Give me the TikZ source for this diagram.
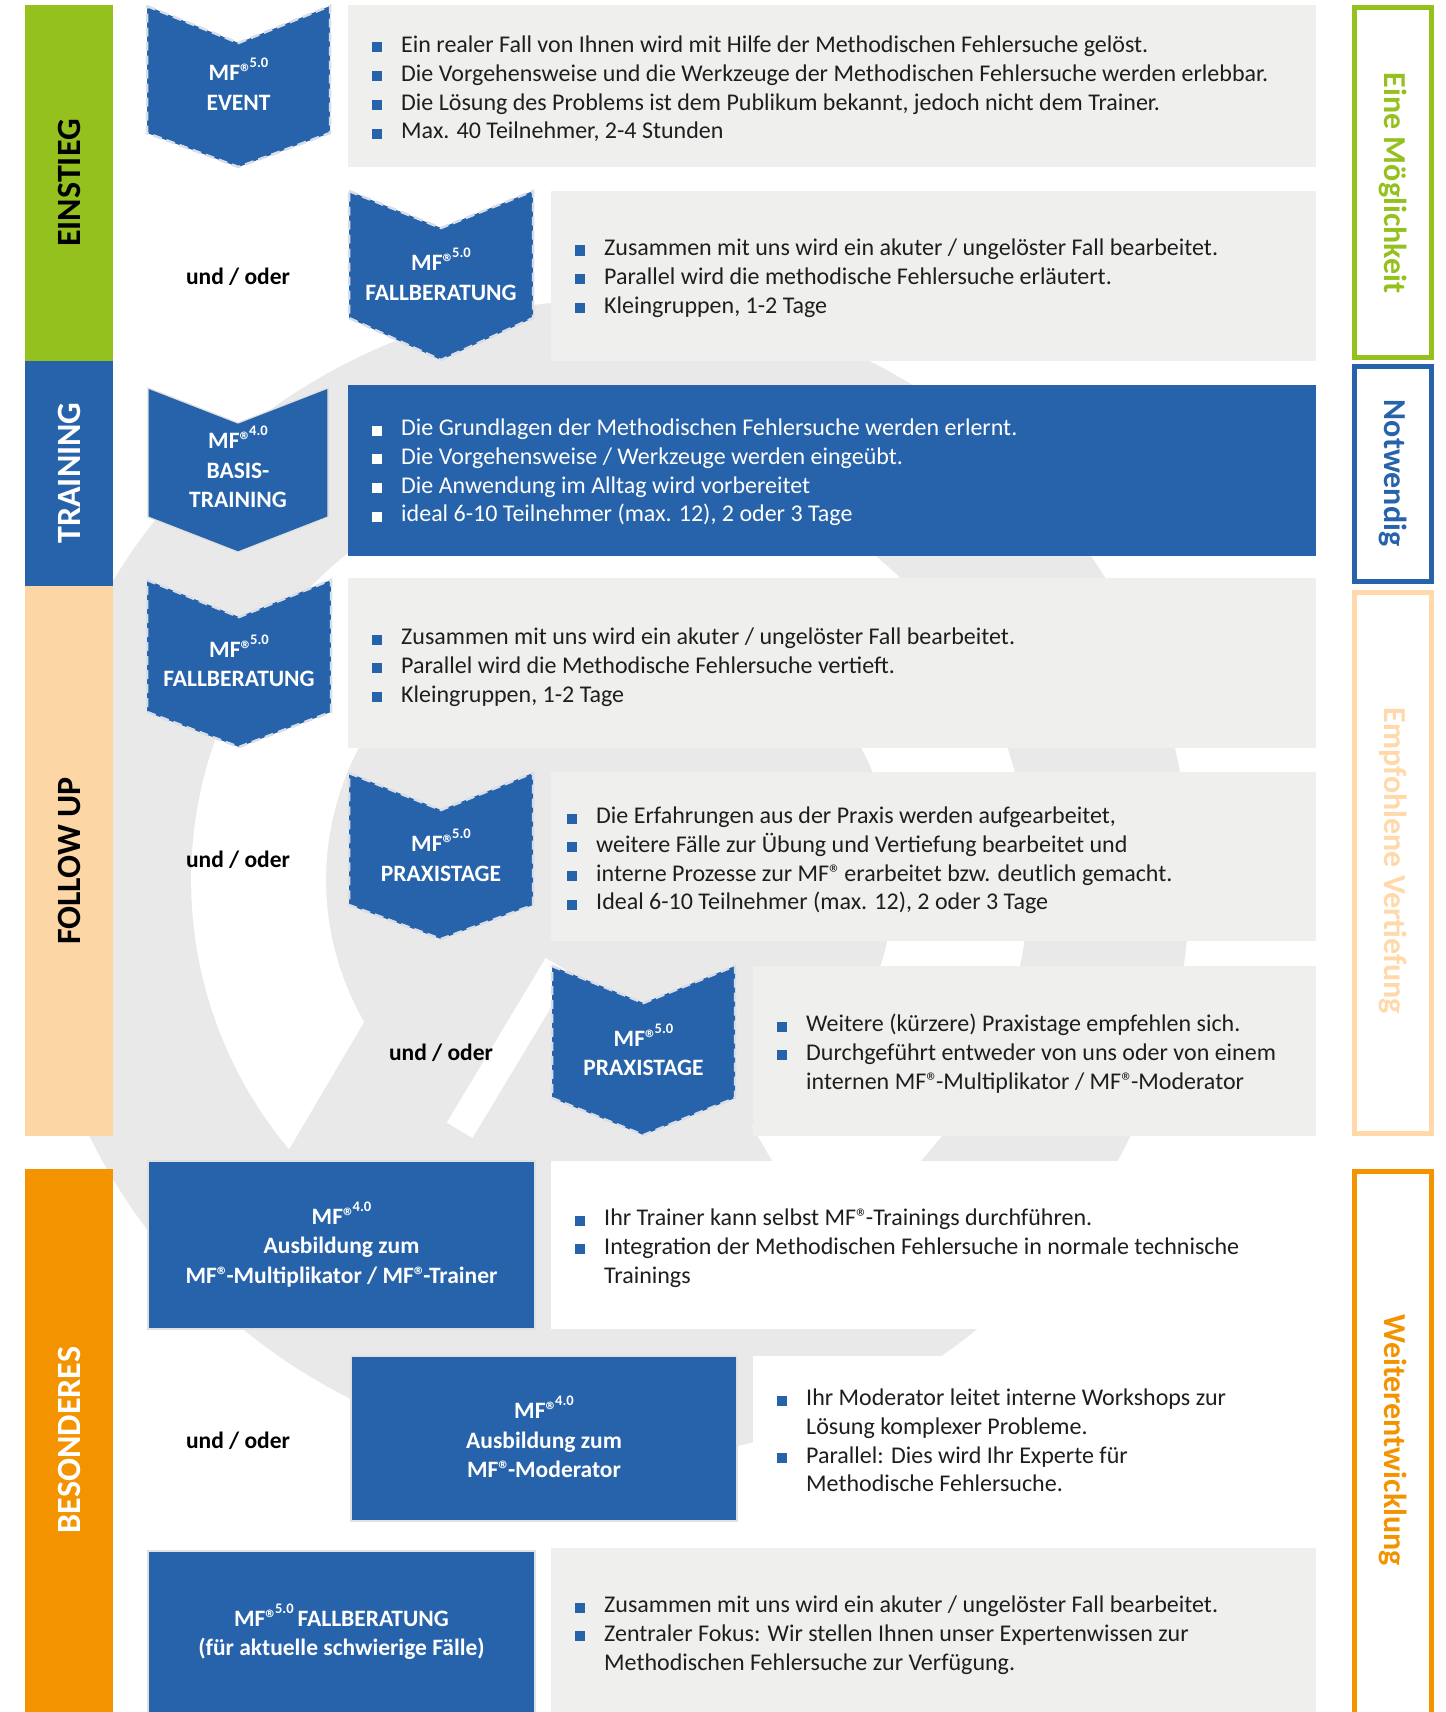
\documentclass[tikz,border=0pt]{standalone}
\usepackage{fontspec}
\setmainfont{Carlito}
\usepackage{graphicx}
\definecolor{mfblue}{RGB}{39,99,170}
\definecolor{mfgreen}{RGB}{149,193,31}
\definecolor{mfpeach}{RGB}{252,214,164}
\definecolor{mfpeachline}{RGB}{255,217,170}
\definecolor{mforange}{RGB}{243,147,0}
\definecolor{boxgrey}{RGB}{239,239,238}
\definecolor{wmgrey}{RGB}{233,233,233}
\definecolor{txt}{RGB}{30,30,30}
\definecolor{dashc}{RGB}{215,222,234}

\newcommand\bsq{\textcolor{mfblue}{\rule{10pt}{10pt}}}
\newcommand\wsq{\textcolor{white}{\rule{10pt}{10pt}}}
\newcommand\bi[2]{\hbox{\hbox to 29pt{#1\hfil}#2}}
\newcommand\bc[1]{\hbox{\hskip29pt #1}}
\newcommand\blist[1]{\vtop{\baselineskip=28.8pt\lineskiplimit=-100pt\lineskip=0pt #1}}
\newcommand\clines[1]{\vtop{\baselineskip=29.5pt\lineskiplimit=-100pt\lineskip=0pt\halign{\hfil##\hfil\cr#1\crcr}}}
\newcommand\reg{®\kern-0.1em}
\newcommand\ver[1]{\raisebox{0.55em}{\scalebox{0.62}{#1}}}

\tikzset{
  chevd/.style={fill=mfblue, draw=dashc, line width=2.5pt, dash pattern=on 9pt off 5pt},
  chevs/.style={fill=mfblue, draw=white!88!black, line width=1.2pt},
  rectb/.style={fill=mfblue, draw=white!88!black, line width=1.2pt},
  lbl/.style={text=white, font=\fontsize{23.5}{29.5}\selectfont\bfseries, anchor=base, inner sep=0pt},
  body/.style={text=txt, font=\fontsize{24}{28.8}\selectfont, anchor=base west, inner sep=0pt},
  oder/.style={font=\fontsize{23.5}{28}\selectfont\bfseries, text=black, anchor=base, inner sep=0pt},
  bandlbl/.style={font=\fontsize{34}{34}\selectfont\bfseries, inner sep=0pt, rotate=90},
  sidelbl/.style={font=\fontsize{32}{32}\selectfont\bfseries, inner sep=0pt, rotate=-90},
  frame/.style={line width=5pt, fill=white},
}

\begin{document}
\begin{tikzpicture}[x=1pt,y=-1pt]
\useasboundingbox (0,0) rectangle (1445,1712);
\fill[white] (0,0) rectangle (1445,1712);

% watermark (large grey logo in the background)
\fill[wmgrey] (610,880) circle[radius=580pt];
\fill[white] plot[domain=140:420, samples=90] ({610+419*cos(\x)},{880+419*sin(\x)})
  -- plot[domain=420:150, samples=90] ({610+284*cos(\x)},{880+284*sin(\x)}) -- cycle;
\draw[white, line width=30pt] ({610+100*cos(121)},{880+100*sin(121)}) -- ({610+292*cos(121)},{880+292*sin(121)});

% left bands
\fill[mfgreen] (25,5) rectangle (113,361);
\fill[mfblue] (25,361) rectangle (113,586);
\fill[mfpeach] (25,586) rectangle (113,1136);
\fill[mforange] (25,1169) rectangle (113,1712);
\node[bandlbl, text=black] (lEin) at (69,183) {EINSTIEG};
\node[bandlbl, text=white] (lTra) at (69,473) {TRAINING};
\node[bandlbl, text=black] (lFol) at (69,861) {FOLLOW UP};
\node[bandlbl, text=white] (lBes) at (69,1440) {BESONDERES};

% right frames
\draw[frame, draw=mfgreen] (1354.5,7.5) rectangle (1431.5,357.5);
\draw[frame, draw=mfblue] (1354.5,366.5) rectangle (1431.5,581.5);
\draw[frame, draw=mfpeachline] (1354.5,592.5) rectangle (1431.5,1133.5);
\fill[white] (1354.5,1171.5) rectangle (1431.5,1730);
\draw[line width=5pt, mforange] (1354.5,1730) -- (1354.5,1171.5) -- (1431.5,1171.5) -- (1431.5,1730);
\node[sidelbl, text=mfgreen] (rEin) at (1393,183) {Eine Möglichkeit};
\node[sidelbl, text=mfblue] (rNot) at (1393,473) {Notwendig};
\node[sidelbl, text=mfpeachline] (rEmp) at (1393,861) {Empfohlene Vertiefung};
\node[sidelbl, text=mforange] (rWei) at (1393,1440) {Weiterentwicklung};

% content boxes
\fill[boxgrey] (348,5) rectangle (1316,167);
\fill[boxgrey] (551,191) rectangle (1316,361);
\fill[mfblue] (348,385) rectangle (1316,556);
\fill[boxgrey] (348,578) rectangle (1316,748);
\fill[boxgrey] (551,772) rectangle (1316,941);
\fill[boxgrey] (753,966) rectangle (1316,1136);
\fill[white] (551,1161) rectangle (1316,1329);
\fill[white] (753,1356) rectangle (1316,1521);
\fill[boxgrey] (551,1548) rectangle (1316,1730);

% chevrons
\draw[chevd] (147,6) -- (238.5,43) -- (330,6) -- (330,133) -- (238.5,167) -- (147,133) -- cycle;
\draw[chevd] (349,191) -- (441,228) -- (533,191) -- (533,318) -- (441,360) -- (349,318) -- cycle;
\draw[chevs] (148,388) -- (238,423) -- (328,388) -- (328,517) -- (238,552) -- (148,517) -- cycle;
\draw[chevd] (147,580) -- (239,617) -- (331,580) -- (331,712) -- (239,747) -- (147,712) -- cycle;
\draw[chevd] (349,773) -- (441,810) -- (533,773) -- (533,905) -- (441,939) -- (349,905) -- cycle;
\draw[chevd] (552,966) -- (643.5,1003) -- (735,966) -- (735,1098) -- (643.5,1135) -- (552,1098) -- cycle;

% blue rectangles
\draw[rectb] (148,1161) rectangle (535,1329);
\draw[rectb] (351,1356) rectangle (737,1521);
\draw[rectb] (148,1551) rectangle (535,1730);

% labels
\node[lbl] (cE) at (238.5,80.7) {\clines{MF\reg\ver{5.0}\cr EVENT}};
\node[lbl] (cF1) at (441,270.7) {\clines{MF\reg\ver{5.0}\cr FALLBERATUNG}};
\node[lbl] (cT) at (238,448.7) {\clines{MF\reg\ver{4.0}\cr BASIS-\cr TRAINING}};
\node[lbl] (cF2) at (239,657.4) {\clines{MF\reg\ver{5.0}\cr FALLBERATUNG}};
\node[lbl] (cP1) at (441,851.8) {\clines{MF\reg\ver{5.0}\cr PRAXISTAGE}};
\node[lbl] (cP2) at (643.5,1046.2) {\clines{MF\reg\ver{5.0}\cr PRAXISTAGE}};
\node[lbl] (cA) at (341.5,1224.2) {\clines{MF\reg\ver{4.0}\cr Ausbildung zum\cr MF\reg-Multiplikator / MF\reg-Trainer}};
\node[lbl] (cB) at (544,1418.7) {\clines{MF\reg\ver{4.0}\cr Ausbildung zum\cr MF\reg-Moderator}};
\node[lbl] (cC) at (341.5,1626) {\clines{MF\reg\ver{5.0}\,FALLBERATUNG\cr (für aktuelle schwierige Fälle)}};

% und / oder
\node[oder] (o1) at (238,284.5) {und / oder};
\node[oder] (o2) at (238,867) {und / oder};
\node[oder] (o3) at (441,1060.5) {und / oder};
\node[oder] (o4) at (238,1448) {und / oder};

% bullet texts
\node[body] (t1) at (372,52.5) {\blist{%
  \bi{\bsq}{Ein realer Fall von Ihnen wird mit Hilfe der Methodischen Fehlersuche gelöst.}
  \bi{\bsq}{Die Vorgehensweise und die Werkzeuge der Methodischen Fehlersuche werden erlebbar.}
  \bi{\bsq}{Die Lösung des Problems ist dem Publikum bekannt, jedoch nicht dem Trainer.}
  \bi{\bsq}{Max. 40 Teilnehmer, 2-4 Stunden}}};
\node[body] (t2) at (575,255.5) {\blist{%
  \bi{\bsq}{Zusammen mit uns wird ein akuter / ungelöster Fall bearbeitet.}
  \bi{\bsq}{Parallel wird die methodische Fehlersuche erläutert.}
  \bi{\bsq}{Kleingruppen, 1-2 Tage}}};
\node[body, text=white] (t3) at (372,435.5) {\blist{%
  \bi{\wsq}{Die Grundlagen der Methodischen Fehlersuche werden erlernt.}
  \bi{\wsq}{Die Vorgehensweise / Werkzeuge werden eingeübt.}
  \bi{\wsq}{Die Anwendung im Alltag wird vorbereitet}
  \bi{\wsq}{ideal 6-10 Teilnehmer (max. 12), 2 oder 3 Tage}}};
\node[body] (t4) at (372,644.5) {\blist{%
  \bi{\bsq}{Zusammen mit uns wird ein akuter / ungelöster Fall bearbeitet.}
  \bi{\bsq}{Parallel wird die Methodische Fehlersuche vertieft.}
  \bi{\bsq}{Kleingruppen, 1-2 Tage}}};
\node[body] (t5) at (567,823.5) {\blist{%
  \bi{\bsq}{Die Erfahrungen aus der Praxis werden aufgearbeitet,}
  \bi{\bsq}{weitere Fälle zur Übung und Vertiefung bearbeitet und}
  \bi{\bsq}{interne Prozesse zur MF\reg\ erarbeitet bzw. deutlich gemacht.}
  \bi{\bsq}{Ideal 6-10 Teilnehmer (max. 12), 2 oder 3 Tage}}};
\node[body] (t6) at (777,1031.5) {\blist{%
  \bi{\bsq}{Weitere (kürzere) Praxistage empfehlen sich.}
  \bi{\bsq}{Durchgeführt entweder von uns oder von einem}
  \bc{internen MF\reg-Multiplikator / MF\reg-Moderator}}};
\node[body] (tA) at (575,1225.5) {\blist{%
  \bi{\bsq}{Ihr Trainer kann selbst MF\reg-Trainings durchführen.}
  \bi{\bsq}{Integration der Methodischen Fehlersuche in normale technische}
  \bc{Trainings}}};
\node[body] (tB) at (777,1405.5) {\blist{%
  \bi{\bsq}{Ihr Moderator leitet interne Workshops zur}
  \bc{Lösung komplexer Probleme.}
  \bi{\bsq}{Parallel: Dies wird Ihr Experte für}
  \bc{Methodische Fehlersuche.}}};
\node[body] (tC) at (575,1612.5) {\blist{%
  \bi{\bsq}{Zusammen mit uns wird ein akuter / ungelöster Fall bearbeitet.}
  \bi{\bsq}{Zentraler Fokus: Wir stellen Ihnen unser Expertenwissen zur}
  \bc{Methodischen Fehlersuche zur Verfügung.}}};
\end{tikzpicture}
\end{document}
